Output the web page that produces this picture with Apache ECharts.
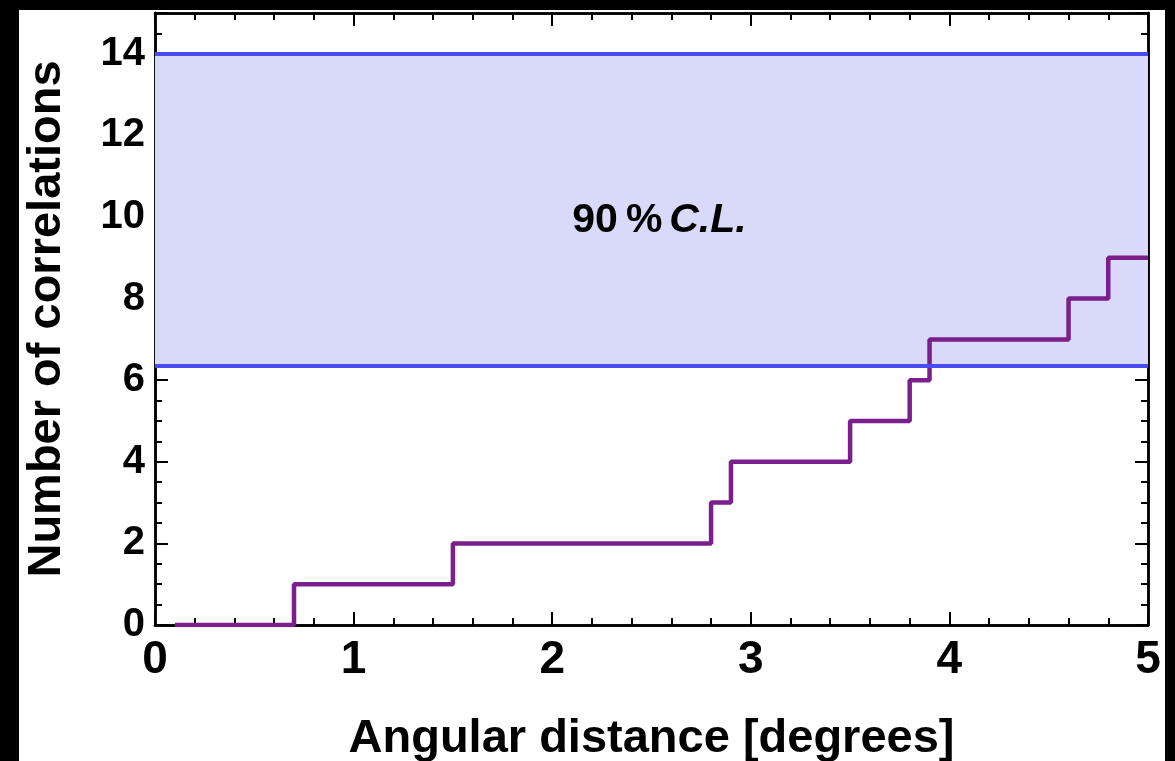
<!DOCTYPE html>
<html>
<head>
<meta charset="utf-8">
<script src="https://cdn.jsdelivr.net/npm/echarts@6/dist/echarts.min.js"></script>
<style>
  html, body { margin: 0; padding: 0; background: #000; }
  #panel { position: absolute; left: 19px; top: 10px; width: 1146px; height: 751px; background: #fff; }
  #chart { position: absolute; left: 0; top: 0; width: 1175px; height: 761px; }
</style>
</head>
<body>
<div id="panel"></div>
<div id="chart"></div>
<script>
// step curve: angular distance where count increases, and the count
const stepX = [0.1, 0.7, 1.5, 2.8, 2.9, 3.5, 3.8, 3.9, 4.6, 4.8, 5.0];
const stepY = [0, 1, 2, 3, 4, 5, 6, 7, 8, 9, 9];
// 90% C.L. band
const bandLow = 6.35;
const bandHigh = 14;
const bandLabelPos = [2.54, 9.9];

const FONT = '"Liberation Sans", Arial, sans-serif';
const chart = echarts.init(document.getElementById('chart'));

// helper for the frame axes (ticks only)
function xAx(pos, interval, len, opts) {
  return Object.assign({
    type: 'value', position: pos, min: 0, max: 5, interval: interval,
    axisLine: { show: true, onZero: false, lineStyle: { color: '#000', width: 2.5 } },
    axisTick: { show: true, inside: true, length: len, lineStyle: { color: '#000', width: 2 } },
    axisLabel: { show: false }, splitLine: { show: false }
  }, opts || {});
}
function yAx(pos, interval, len, opts) {
  return Object.assign({
    type: 'value', position: pos, min: 0, max: 15, interval: interval,
    axisLine: { show: true, onZero: false, lineStyle: { color: '#000', width: 2.5 } },
    axisTick: { show: true, inside: true, length: len, lineStyle: { color: '#000', width: 2 } },
    axisLabel: { show: false }, splitLine: { show: false }
  }, opts || {});
}

chart.setOption({
  animation: false,
  backgroundColor: 'transparent',
  grid: { left: 155, top: 13, right: 27, bottom: 136, outerBoundsMode: 'none', containLabel: false },
  xAxis: [
    xAx('bottom', 1, 13, {
      name: 'Angular distance [degrees]', nameLocation: 'middle', nameGap: 91,
      nameTextStyle: { fontFamily: FONT, fontWeight: 'bold', fontSize: 47, color: '#000' },
      axisLabel: { show: true, margin: 12, fontFamily: FONT, fontWeight: 'bold', fontSize: 46, color: '#000' }
    }),
    xAx('bottom', 0.2, 7),
    xAx('top', 1, 13),
    xAx('top', 0.2, 7)
  ],
  yAxis: [
    yAx('left', 2, 13, {
      name: 'Number of correlations', nameLocation: 'middle', nameGap: 84, nameRotate: 90,
      nameTextStyle: { fontFamily: FONT, fontWeight: 'bold', fontSize: 47, color: '#000' },
      axisLabel: {
        show: true, margin: 10, fontFamily: FONT, fontWeight: 'bold', fontSize: 40, color: '#000',
        formatter: v => (v > 14 ? '' : String(v))
      }
    }),
    yAx('left', 0.5, 7),
    yAx('right', 2, 13),
    yAx('right', 0.5, 7)
  ],
  series: [
    {
      type: 'line',
      xAxisIndex: 0, yAxisIndex: 0,
      data: [],
      silent: true,
      markArea: {
        silent: true,
        itemStyle: { color: '#d9d9f9' },
        data: [[{ yAxis: bandLow }, { yAxis: bandHigh }]]
      },
      markLine: {
        silent: true, symbol: 'none', label: { show: false },
        lineStyle: { color: '#4b4bf2', width: 4, type: 'solid' },
        data: [{ yAxis: bandLow }, { yAxis: bandHigh }]
      },
      markPoint: {
        silent: true, symbol: 'circle', symbolSize: 0,
        data: [{ coord: bandLabelPos }],
        label: {
          show: true, position: 'inside',
          formatter: '{a|90\u2009%}  {b|C.L.}',
          rich: {
            a: { fontFamily: FONT, fontWeight: 'bold', fontSize: 41, color: '#000' },
            b: { fontFamily: FONT, fontWeight: 'bold', fontStyle: 'italic', fontSize: 41, color: '#000' }
          }
        }
      }
    },
    {
      type: 'line',
      xAxisIndex: 0, yAxisIndex: 0,
      step: 'end',
      showSymbol: false,
      lineStyle: { color: '#7b1f8c', width: 4.5 },
      data: stepX.map((x, i) => [x, stepY[i]])
    }
  ]
});
</script>
</body>
</html>
